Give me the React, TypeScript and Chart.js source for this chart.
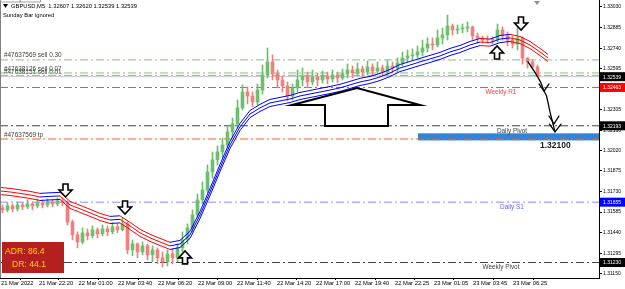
import React, { useEffect, useRef } from "react";
import { Chart, registerables } from "chart.js";
Chart.register(...registerables);

// ---------- DATA ----------
const SYMBOL = "GBPUSD,M5";
const HEADER_OHLC = ["1.32607", "1.32620", "1.32539", "1.32539"];
const FIRST_OPEN = 1.31615;
const CLOSE = [
  1.31601, 1.31629, 1.31608, 1.31636, 1.31622, 1.31643, 1.31629, 1.3165, 1.31636, 1.31657,
  1.31643, 1.31664, 1.3165, 1.31516, 1.31425, 1.31375, 1.31439, 1.31418, 1.3146, 1.31432,
  1.31467, 1.31446, 1.31481, 1.3146, 1.31502, 1.31319, 1.31361, 1.31305, 1.31347, 1.31284,
  1.31319, 1.31263, 1.31235, 1.31291, 1.31263, 1.31333, 1.31389, 1.31474, 1.31565, 1.31671,
  1.31741, 1.31868, 1.31953, 1.32009, 1.32058, 1.3215, 1.32206, 1.32319, 1.32431, 1.32403,
  1.32361, 1.32445, 1.32551, 1.32643, 1.32558, 1.32516, 1.32474, 1.32403, 1.3246, 1.32516,
  1.32544, 1.32502, 1.32537, 1.32516, 1.32544, 1.32523, 1.32551, 1.3253, 1.32558, 1.32586,
  1.32565, 1.32593, 1.32572, 1.32607, 1.32579, 1.326, 1.32572, 1.32614, 1.326, 1.32636,
  1.32671, 1.32685, 1.32692, 1.32713, 1.32741, 1.32769, 1.32762, 1.32812, 1.32833, 1.32896,
  1.32868, 1.32875, 1.32882, 1.32889, 1.32826, 1.32812, 1.32797, 1.32804, 1.32797, 1.32868,
  1.32826, 1.32797, 1.32769, 1.32812, 1.32671, 1.32643, 1.32607, 1.32539,
];
const HIGH = [
  1.31636, 1.3165, 1.31643, 1.31657, 1.3165, 1.31671, 1.31657, 1.31678, 1.31671, 1.31678,
  1.31671, 1.31685, 1.31685, 1.31664, 1.3153, 1.31446, 1.31474, 1.31467, 1.31488, 1.31474,
  1.31495, 1.31488, 1.31509, 1.31502, 1.31544, 1.31516, 1.31389, 1.31368, 1.31375, 1.31361,
  1.31347, 1.31333, 1.31305, 1.31319, 1.31326, 1.31361, 1.31446, 1.31502, 1.31601, 1.31713,
  1.31798, 1.31917, 1.32009, 1.32051, 1.32107, 1.32192, 1.32248, 1.32375, 1.32481, 1.32467,
  1.32431, 1.32488, 1.32621, 1.32741, 1.32692, 1.32586, 1.32544, 1.32502, 1.32488, 1.32586,
  1.326, 1.32572, 1.32586, 1.32565, 1.32579, 1.32572, 1.32586, 1.32572, 1.32593, 1.32629,
  1.32614, 1.32636, 1.32614, 1.3265, 1.32629, 1.32643, 1.32621, 1.32657, 1.32643, 1.32671,
  1.32713, 1.32727, 1.32734, 1.32755, 1.32797, 1.32812, 1.32812, 1.32868, 1.32882, 1.32973,
  1.3291, 1.32903, 1.3291, 1.32924, 1.32896, 1.32847, 1.32826, 1.32826, 1.32819, 1.3291,
  1.32889, 1.32854, 1.32826, 1.32903, 1.32819, 1.32671, 1.32657, 1.3262,
];
const LOW = [
  1.3158, 1.31587, 1.31587, 1.31594, 1.31601, 1.31608, 1.31601, 1.31615, 1.31615, 1.31622,
  1.31622, 1.31629, 1.31629, 1.31495, 1.31389, 1.31333, 1.31361, 1.31389, 1.31404, 1.31404,
  1.31418, 1.31418, 1.31432, 1.31439, 1.31453, 1.31291, 1.31277, 1.31263, 1.31284, 1.31249,
  1.31235, 1.31221, 1.31199, 1.31206, 1.31221, 1.31235, 1.31305, 1.31361, 1.31446, 1.31544,
  1.31643, 1.3172, 1.31826, 1.31917, 1.31967, 1.32037, 1.32107, 1.32178, 1.32305, 1.32347,
  1.32326, 1.3234, 1.32417, 1.3253, 1.32516, 1.3246, 1.32431, 1.32368, 1.32375, 1.32431,
  1.32474, 1.3246, 1.32481, 1.32474, 1.32495, 1.32488, 1.32502, 1.32495, 1.32516, 1.3253,
  1.3253, 1.32544, 1.32537, 1.32551, 1.32544, 1.32558, 1.32544, 1.32551, 1.32565, 1.32572,
  1.32614, 1.32643, 1.32657, 1.32671, 1.32685, 1.32713, 1.32727, 1.32748, 1.32769, 1.32797,
  1.32833, 1.3284, 1.32847, 1.32854, 1.32797, 1.32776, 1.32776, 1.32776, 1.32769, 1.32783,
  1.32797, 1.32755, 1.32741, 1.32727, 1.32628, 1.326, 1.326, 1.32539,
];

// moving-average ribbon (centre line) sampled along the time axis (slot units)
const RIBBON_X = [
  0, 2, 4, 6, 8, 10, 12, 14, 16, 18, 20, 22, 24, 26, 28, 30, 32, 34, 36, 38,
  40, 42, 44, 46, 48, 50, 52, 54, 56, 58, 60, 62, 64, 66, 68, 70, 72, 74, 76, 78,
  80, 82, 84, 86, 88, 90, 92, 94, 96, 98, 100, 102, 104, 106, 108, 109.6,
];
const RIBBON_MID = [
  1.31734, 1.31727, 1.31717, 1.31706, 1.31692, 1.31696, 1.31699, 1.31636, 1.31608, 1.3158,
  1.31551, 1.3153, 1.31534, 1.31488, 1.31439, 1.31404, 1.31375, 1.31347, 1.31361, 1.31425,
  1.31565, 1.31727, 1.31896, 1.32058, 1.32185, 1.32276, 1.32319, 1.32354, 1.32368, 1.32382,
  1.32403, 1.32417, 1.32431, 1.32445, 1.3246, 1.32481, 1.32502, 1.32516, 1.32537, 1.32565,
  1.326, 1.32621, 1.32643, 1.32664, 1.32685, 1.32713, 1.32734, 1.32762, 1.32783, 1.32779,
  1.32804, 1.32812, 1.32797, 1.32762, 1.32713, 1.32671,
];
const RIBBON_SPREAD = 0.00025;

const LEVEL_PRICES = [1.32657, 1.32565, 1.32548, 1.32463, 1.32193, 1.321, 1.31655, 1.3123];
const LEVEL_TEXTS = ["#47637569 sell 0.30", "#47638126 sell 0.07", "#47638151 sell 0.01", "Weekly R1", "Daily Pivot", "#47637569 tp", "Daily S1", "Weekly Pivot"];
const BID = 1.32539;
const TARGET = 1.321;
const TARGET_BAND = [1.3209, 1.3214];

const Y_TICKS = [1.3303, 1.32885, 1.3274, 1.32595, 1.3245, 1.32305, 1.3216, 1.3202, 1.31875, 1.3173, 1.31585, 1.3144, 1.31295, 1.3115];
const X_TICK_POS = [0.2, 7.8, 15.7, 23.6, 31.6, 39.6, 47.4, 55.4, 63.2, 71, 79, 86.8, 94.6, 102.6];
const X_TICK_LABELS = [
  "21 Mar 2022", "21 Mar 22:20", "22 Mar 01:00", "22 Mar 03:40", "22 Mar 06:20", "22 Mar 09:00", "22 Mar 11:40",
  "22 Mar 14:20", "22 Mar 17:00", "22 Mar 19:40", "22 Mar 22:25", "23 Mar 01:05", "23 Mar 03:45", "23 Mar 06:25",
];
const ADR = "86.4";
const DR = "44.1";

const DOWN_ARROWS = [[13.1, 1.31692], [25, 1.31572], [104.2, 1.32868]];
const UP_ARROWS = [[37, 1.31312], [99.4, 1.32755]];
const BIG_ARROW = [[58.4, 1.3234], [71.4, 1.32459], [84, 1.3234], [77.6, 1.3234], [77.6, 1.32192], [65, 1.32192], [65, 1.3234]];
const HAND_PATH = [[105.6, 1.32643], [107.2, 1.32558], [108.2, 1.32495], [108.8, 1.32438], [109.3, 1.32405], [110, 1.32291], [110.6, 1.32205], [111, 1.3215]];
const HAND_HEADS = [
  [[107.8, 1.32488], [108.8, 1.32438], [109.8, 1.32488]],
  [[109.8, 1.32262], [110.8, 1.32206], [111.8, 1.32262]],
  [[109.9, 1.32205], [111, 1.3215], [112.2, 1.32205]],
];

// ---------- STYLE ----------
const X_MAX = 119.8;
const Y_MIN = 1.31121;
const Y_MAX = 1.33079;
const FONT = "'Liberation Sans', Arial, sans-serif";
const BULL = "#6cbf6c";
const BEAR = "#f08080";
const LEVEL_COLORS = ["#7fc47f", "#7fc47f", "#7fc47f", "#ff4040", "#404040", "#ff5a1f", "#8c8cff", "#404040"];
const LEVEL_TEXT_COLORS = ["#404040", "#404040", "#404040", "#ff4040", "#404040", "#404040", "#6464ff", "#404040"];
const AXIS_BOXES: [number, string][] = [[BID, "#000000"], [1.32463, "#ff0000"], [1.32193, "#000000"], [1.31655, "#0000ff"], [1.3123, "#000000"]];

const OPEN = CLOSE.map((_, i) => (i === 0 ? FIRST_OPEN : CLOSE[i - 1]));
const candleColor = CLOSE.map((c, i) => (c >= OPEN[i] ? BULL : BEAR));

const overlay = {
  id: "overlay",
  beforeDatasetsDraw(chart: any) {
    const { ctx, scales } = chart;
    const xs = scales.x, ys = scales.y;
    const area = chart.chartArea;
    ctx.save();
    // target band
    const y1 = ys.getPixelForValue(TARGET_BAND[1]);
    const y2 = ys.getPixelForValue(TARGET_BAND[0]);
    const bx = xs.getPixelForValue(83.6);
    ctx.fillStyle = "#2b86e0";
    ctx.fillRect(bx, y1, area.right - bx, y2 - y1);
    // level labels
    ctx.font = `6.4px ${FONT}`;
    LEVEL_PRICES.forEach((p, i) => {
      const y = ys.getPixelForValue(p);
      ctx.fillStyle = LEVEL_TEXT_COLORS[i];
      if (LEVEL_TEXTS[i].startsWith("#")) {
        ctx.textAlign = "left";
        ctx.textBaseline = "bottom";
        ctx.fillText(LEVEL_TEXTS[i], 4, y - 1 + (i === 2 ? 1.5 : 0));
      } else {
        ctx.textAlign = "center";
        ctx.textBaseline = "top";
        const cx = xs.getPixelForValue(i === 4 || i === 6 ? 102.4 : 100.2);
        ctx.fillText(LEVEL_TEXTS[i], cx, y + 2);
      }
    });
    ctx.restore();
  },
  afterDatasetsDraw(chart: any) {
    const { ctx, scales } = chart;
    const xs = scales.x, ys = scales.y;
    const P = (pt: number[]) => [xs.getPixelForValue(pt[0]), ys.getPixelForValue(pt[1])];
    ctx.save();
    // outline arrows
    const arrow = (pt: number[], dir: number) => {
      const [cx, tip] = P(pt);
      const s = dir; // 1 = down (tip bottom), -1 = up (tip top)
      const pts = [
        [cx - 2.5, tip - 13 * s], [cx + 2.5, tip - 13 * s], [cx + 2.5, tip - 7 * s], [cx + 6.5, tip - 7 * s],
        [cx, tip], [cx - 6.5, tip - 7 * s], [cx - 2.5, tip - 7 * s],
      ];
      ctx.beginPath();
      pts.forEach((q, k) => (k ? ctx.lineTo(q[0], q[1]) : ctx.moveTo(q[0], q[1])));
      ctx.closePath();
      ctx.fillStyle = "#ffffff";
      ctx.fill();
      ctx.lineWidth = 1.6;
      ctx.strokeStyle = "#000";
      ctx.stroke();
    };
    DOWN_ARROWS.forEach((a) => arrow(a, 1));
    UP_ARROWS.forEach((a) => arrow(a, -1));
    // big arrow
    ctx.beginPath();
    BIG_ARROW.forEach((q, k) => {
      const [px, py] = P(q);
      k ? ctx.lineTo(px, py) : ctx.moveTo(px, py);
    });
    ctx.closePath();
    ctx.fillStyle = "#fff";
    ctx.fill();
    ctx.lineWidth = 2;
    ctx.strokeStyle = "#000";
    ctx.stroke();
    // hand drawn path
    ctx.lineWidth = 1.3;
    ctx.lineJoin = "round";
    ctx.lineCap = "round";
    ctx.beginPath();
    HAND_PATH.forEach((q, k) => {
      const [px, py] = P(q);
      k ? ctx.lineTo(px, py) : ctx.moveTo(px, py);
    });
    ctx.stroke();
    HAND_HEADS.forEach((h) => {
      ctx.beginPath();
      h.forEach((q, k) => {
        const [px, py] = P(q);
        k ? ctx.lineTo(px, py) : ctx.moveTo(px, py);
      });
      ctx.stroke();
    });
    // target text
    const [tx, ty] = P([108, TARGET]);
    ctx.font = `bold 8.5px ${FONT}`;
    ctx.fillStyle = "#1a1a1a";
    ctx.textAlign = "left";
    ctx.textBaseline = "middle";
    ctx.fillText(TARGET.toFixed(5), tx, ty + 7);
    // ADR box
    ctx.fillStyle = "#b3201f";
    ctx.fillRect(2, 242, 62, 31);
    ctx.fillStyle = "#ffd200";
    ctx.font = `8.6px ${FONT}`;
    ctx.textBaseline = "middle";
    ctx.fillText(`ADR: ${ADR}`, 5, 252);
    ctx.fillText(`DR: ${DR}`, 12, 265);
    // header
    ctx.fillStyle = "#000";
    ctx.beginPath();
    ctx.moveTo(3, 4); ctx.lineTo(8, 4); ctx.lineTo(5.5, 8); ctx.closePath();
    ctx.fill();
    ctx.font = `5.8px ${FONT}`;
    ctx.fillText(`${SYMBOL}  ${HEADER_OHLC.join(" ")}`, 11, 6.5);
    ctx.fillText("Sunday Bar ignored", 3, 15.5);
    // shift marker
    ctx.fillStyle = "#909090";
    ctx.beginPath();
    ctx.moveTo(534, 1); ctx.lineTo(540, 1); ctx.lineTo(537, 5); ctx.closePath();
    ctx.fill();
    // left frame
    ctx.fillStyle = "#808080";
    ctx.fillRect(0, 0, 1, chart.chartArea.bottom);
    ctx.strokeStyle = "#a0a0a0";
    ctx.lineWidth = 1;
    ctx.strokeRect(0.5, -1, 20, 3);
    ctx.strokeRect(20.5, -1, 20, 3);
    ctx.restore();
  },
  afterDraw(chart: any) {
    const { ctx, scales } = chart;
    const ys = scales.y;
    const left = chart.chartArea.right + 1;
    ctx.save();
    ctx.font = `5px ${FONT}`;
    ctx.textBaseline = "middle";
    ctx.textAlign = "left";
    AXIS_BOXES.forEach(([p, c]) => {
      const y = ys.getPixelForValue(p);
      ctx.fillStyle = c;
      ctx.fillRect(left, y - 4.5, 625 - left, 9);
      ctx.fillStyle = "#fff";
      ctx.fillText(p.toFixed(5), left + 3, y + 0.5);
    });
    ctx.restore();
  },
};

export default function App() {
  const ref = useRef<HTMLCanvasElement>(null);
  useEffect(() => {
    const canvas = ref.current!;
    const ribbon = (off: number) => ({
      type: "line" as const,
      data: RIBBON_X.map((x, k) => ({ x, y: RIBBON_MID[k] + off })),
      borderColor: "#ff0000",
      borderWidth: 1,
      pointRadius: 0,
      order: 0,
      segment: {
        borderColor: (c: any) => (c.p1.parsed.y >= c.p0.parsed.y ? "#0000ff" : "#ff0000"),
      },
    });
    const levelSets = LEVEL_PRICES.map((p, i) => ({
      type: "line" as const,
      data: [{ x: 0, y: p }, { x: X_MAX, y: p }],
      borderColor: LEVEL_COLORS[i],
      borderWidth: 1,
      borderDash: [8, 3, 2, 3],
      pointRadius: 0,
      order: 5,
    }));
    const chart = new Chart(canvas, {
      type: "bar",
      data: {
        datasets: [
          ribbon(RIBBON_SPREAD),
          ribbon(0),
          ribbon(-RIBBON_SPREAD),
          {
            type: "bar",
            data: CLOSE.map((c, i) => ({ x: i + 0.5, y: [OPEN[i], c] })),
            backgroundColor: candleColor,
            barThickness: 3,
            minBarLength: 1,
            grouped: false,
            order: 1,
          } as any,
          {
            type: "bar",
            data: CLOSE.map((_, i) => ({ x: i + 0.5, y: [LOW[i], HIGH[i]] })),
            backgroundColor: candleColor,
            barThickness: 1,
            grouped: false,
            order: 2,
          } as any,
          {
            type: "line",
            data: [{ x: 0, y: BID }, { x: X_MAX, y: BID }],
            borderColor: "#c8c8c8",
            borderWidth: 1,
            pointRadius: 0,
            order: 4,
          },
          ...levelSets,
        ],
      },
      options: {
        animation: false,
        responsive: false,
        devicePixelRatio: 1,
        layout: { padding: 0 },
        plugins: { legend: { display: false }, tooltip: { enabled: false } },
        scales: {
          x: {
            type: "linear",
            min: 0,
            max: X_MAX,
            offset: false,
            grid: { drawOnChartArea: false, tickLength: 2, color: "#000" },
            border: { display: true, color: "#000" },
            ticks: {
              autoSkip: false,
              maxRotation: 0,
              align: "start",
              padding: 0,
              color: "#000",
              font: { size: 5.8, family: FONT },
              callback: (_v: any, i: number) => X_TICK_LABELS[i],
            },
            afterBuildTicks: (s: any) => {
              s.ticks = X_TICK_POS.map((v) => ({ value: v }));
            },
            afterFit: (s: any) => {
              s.height = 11;
              s.paddingLeft = 0;
              s.paddingRight = 0;
            },
          },
          y: {
            type: "linear",
            position: "right",
            min: Y_MIN,
            max: Y_MAX,
            grid: { drawOnChartArea: false, tickLength: 3, color: "#000" },
            border: { display: true, color: "#000" },
            ticks: {
              padding: 1,
              color: "#000",
              font: { size: 5, family: FONT },
              callback: (v: any) => Number(v).toFixed(5),
            },
            afterBuildTicks: (s: any) => {
              s.ticks = Y_TICKS.map((v) => ({ value: v }));
            },
            afterFit: (s: any) => {
              s.width = 26;
              s.paddingTop = 0;
              s.paddingBottom = 0;
            },
          },
        },
      } as any,
      plugins: [overlay],
    });
    return () => chart.destroy();
  }, []);
  return (
    <div style={{ position: "fixed", left: 0, top: 0, width: 625, height: 289, background: "#fff" }}>
      <canvas ref={ref} width={625} height={289} style={{ display: "block", width: 625, height: 289 }} />
    </div>
  );
}
